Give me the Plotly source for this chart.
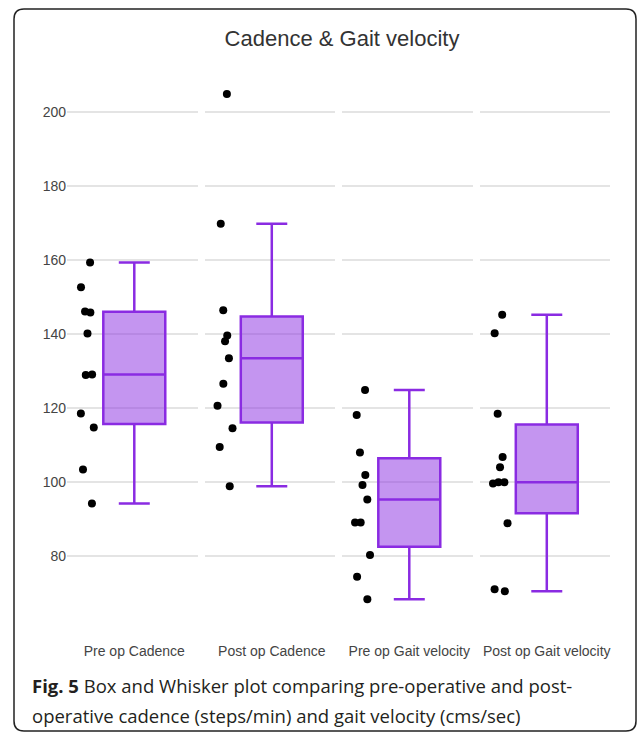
import plotly.graph_objects as go
from plotly.subplots import make_subplots

# ---- data ----
categories = ["Pre op Cadence", "Post op Cadence", "Pre op Gait velocity", "Post op Gait velocity"]
pre_op_cadence = [159.3, 152.6, 146.1, 145.8, 140.1, 129.0, 128.9, 118.5, 114.7, 103.3, 94.1]
post_op_cadence = [204.9, 169.8, 146.4, 139.6, 138.0, 133.4, 126.5, 120.6, 114.5, 109.4, 98.8]
pre_op_gait_velocity = [124.8, 118.1, 107.9, 101.8, 99.1, 95.2, 89.0, 89.0, 80.2, 74.3, 68.2]
post_op_gait_velocity = [145.2, 140.2, 118.4, 106.7, 103.9, 99.9, 99.9, 99.5, 88.8, 70.9, 70.4]
series = [pre_op_cadence, post_op_cadence, pre_op_gait_velocity, post_op_gait_velocity]
y_ticks = [80, 100, 120, 140, 160, 180, 200]

title_text = "Cadence & Gait velocity"
caption_line1 = "<b>Fig. 5</b> Box and Whisker plot comparing pre-operative and post-"
caption_line2 = "operative cadence (steps/min) and gait velocity (cms/sec)"

# ---- layout geometry (pixels) ----
W, H = 638, 733
ML, MR, MT, MB = 67, 28, 83, 118
PW, PH = W - ML - MR, H - MT - MB


def px_x(px):
    return (px - ML) / PW


def px_y(py):
    return (H - MB - py) / PH


LINE = "#8a2be2"
FONT = "Liberation Sans, Arial, sans-serif"

fig = make_subplots(rows=1, cols=4, shared_yaxes=True, horizontal_spacing=7 / PW)

for i, (cat, vals) in enumerate(zip(categories, series)):
    fig.add_trace(
        go.Box(
            y=vals,
            name=cat,
            boxpoints="all",
            jitter=0.3,
            pointpos=-1.5,
            width=0.7,
            marker=dict(color="black", size=8),
            line=dict(color=LINE, width=2.5),
            showlegend=False,
        ),
        row=1,
        col=i + 1,
    )
    fig.update_xaxes(
        range=[-0.76, 0.714],
        showgrid=False,
        zeroline=False,
        showline=False,
        ticks="",
        ticklabelstandoff=26,
        tickfont=dict(family=FONT, size=14, color="#444"),
        row=1,
        col=i + 1,
    )

fig.update_yaxes(
    range=[63.95, 207.9],
    tickvals=y_ticks,
    showgrid=True,
    gridcolor="#e4e4e4",
    gridwidth=1.5,
    zeroline=False,
    showline=False,
    ticks="",
    tickfont=dict(family=FONT, size=14, color="#444"),
)

# rounded frame
x0, y0, x1, y1, r = 14, 9, 636, 731, 10
ry = r / PH
rx = r / PW
X0, X1 = px_x(x0), px_x(x1)
Y0, Y1 = px_y(y0), px_y(y1)
path = (
    f"M {X0 + rx},{Y0} L {X1 - rx},{Y0} Q {X1},{Y0} {X1},{Y0 - ry} "
    f"L {X1},{Y1 + ry} Q {X1},{Y1} {X1 - rx},{Y1} "
    f"L {X0 + rx},{Y1} Q {X0},{Y1} {X0},{Y1 + ry} "
    f"L {X0},{Y0 - ry} Q {X0},{Y0} {X0 + rx},{Y0} Z"
)
fig.add_shape(type="path", path=path, xref="paper", yref="paper",
              line=dict(color="#222", width=1.5), layer="above")

CAP_FONT = dict(family="Open Sans, Noto Sans, sans-serif", size=18.5, color="#231f20")
fig.add_annotation(text=caption_line1, xref="paper", yref="paper",
                   x=px_x(30), y=px_y(685), xanchor="left", yanchor="middle",
                   showarrow=False, font=CAP_FONT)
fig.add_annotation(text=caption_line2, xref="paper", yref="paper",
                   x=px_x(30), y=px_y(715), xanchor="left", yanchor="middle",
                   showarrow=False, font=CAP_FONT)

fig.update_layout(
    width=W,
    height=H,
    margin=dict(l=ML, r=MR, t=MT, b=MB, pad=0),
    paper_bgcolor="white",
    plot_bgcolor="white",
    title=dict(text=title_text, x=342 / W, xref="container", xanchor="center",
               y=1 - 38 / H, yanchor="middle",
               font=dict(family=FONT, size=22, color="#333")),
    font=dict(family=FONT),
)

fig.write_html("out.html", config={"displayModeBar": False},
               post_script="document.body.style.margin='0';")
